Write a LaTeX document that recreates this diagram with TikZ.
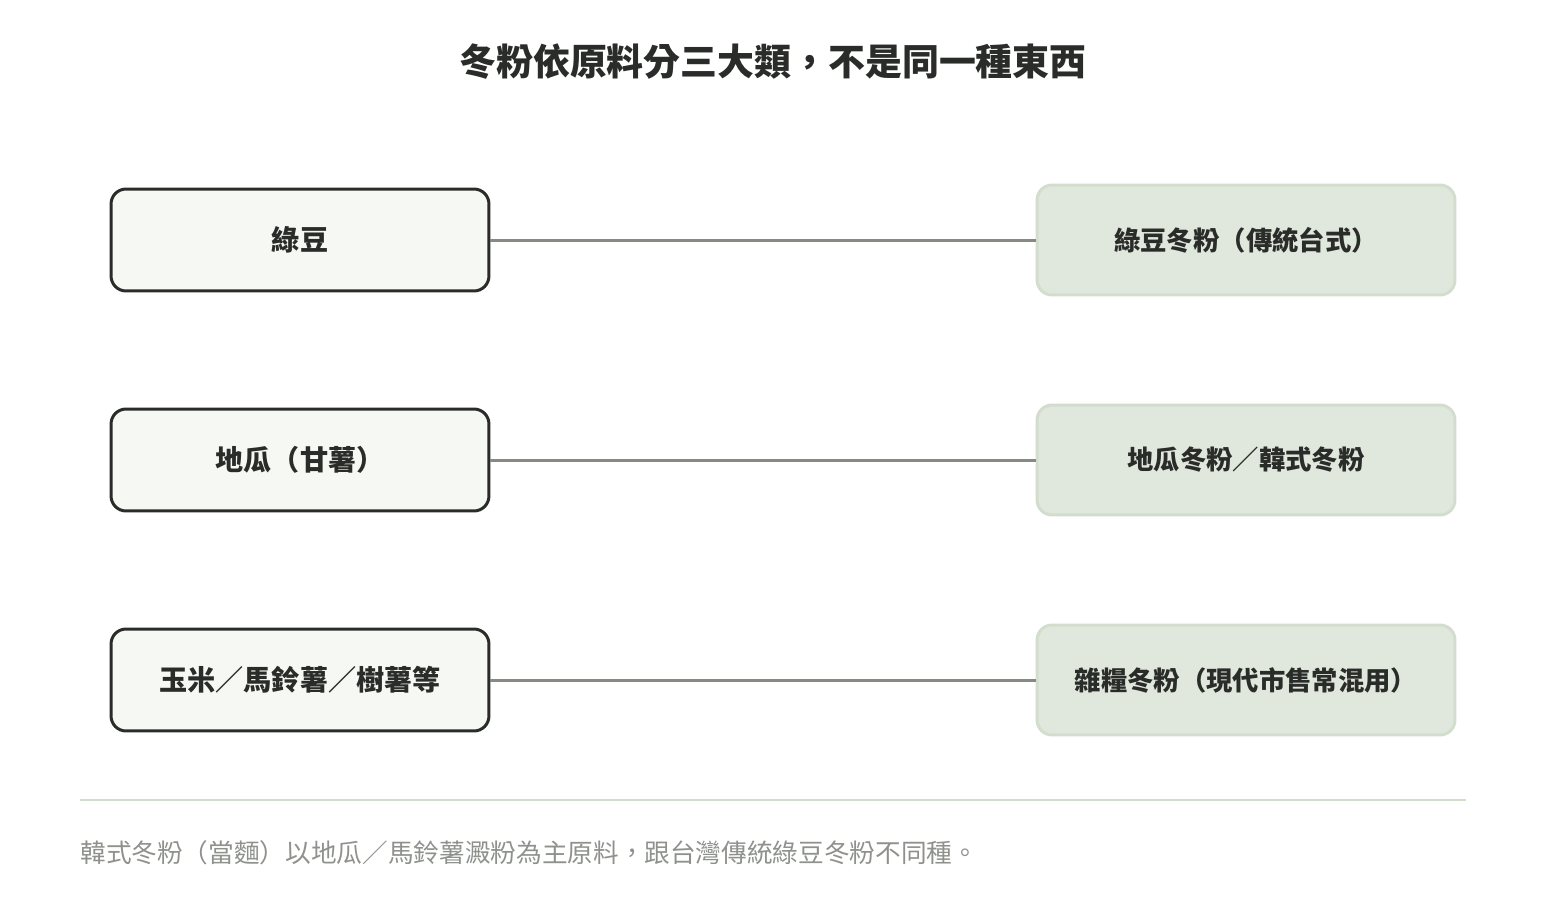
\documentclass[tikz,border=0pt]{standalone}
\usepackage{fontspec}
\setmainfont{Noto Sans CJK TC}
\usepackage{xcolor}
\usetikzlibrary{positioning}
\definecolor{srcfill}{HTML}{F6F8F3}
\definecolor{srcdraw}{HTML}{2A2C29}
\definecolor{dstfill}{HTML}{E0E7DC}
\definecolor{dstdraw}{HTML}{D3DDCE}
\definecolor{linkgray}{HTML}{858B82}
\definecolor{notegray}{HTML}{8E918C}
\tikzset{
  src/.style={draw=srcdraw, line width=0.6mm, fill=srcfill, rounded corners=3mm,
    minimum width=7.56cm, minimum height=2.04cm, font=\fontsize{16}{18}\selectfont\bfseries, text=srcdraw},
  dst/.style={draw=dstdraw, line width=0.6mm, fill=dstfill, rounded corners=3mm,
    minimum width=8.36cm, minimum height=2.2cm, font=\fontsize{15}{17}\selectfont\bfseries, text=srcdraw},
  link/.style={draw=linkgray, line width=0.6mm}
}
\begin{document}
\begin{tikzpicture}[x=0.02cm,y=-0.02cm]
    \useasboundingbox (0,0) rectangle (1546,920);
    % Title
    \node[font=\fontsize{21}{24}\selectfont\bfseries, text=srcdraw] (title) at (773,62) {冬粉依原料分三大類，不是同一種東西};
    % Sources
    \node[src] (mung) at (300,240) {綠豆};
    \node[src] (potato) at (300,460) {地瓜（甘薯）};
    \node[src] (corn) at (300,680) {玉米／馬鈴薯／樹薯等};
    % Products
    \node[dst] (mungnoodle) at (1246,240) {綠豆冬粉（傳統台式）};
    \node[dst] (koreannoodle) at (1246,460) {地瓜冬粉／韓式冬粉};
    \node[dst] (mixnoodle) at (1246,680) {雜糧冬粉（現代市售常混用）};
    % Links
    \draw[link] (mung) -- (mungnoodle);
    \draw[link] (potato) -- (koreannoodle);
    \draw[link] (corn) -- (mixnoodle);
    % Footer
    \coordinate (ruleL) at (80,800);
    \coordinate (ruleR) at (1466,800);
    \draw[dstdraw, line width=0.4mm] (ruleL) -- (ruleR);
    \node[anchor=west, inner sep=0pt, font=\fontsize{14.6}{17}\selectfont, text=notegray] (note) at (80,853) {韓式冬粉（當麵）以地瓜／馬鈴薯澱粉為主原料，跟台灣傳統綠豆冬粉不同種。};
\end{tikzpicture}
\end{document}
